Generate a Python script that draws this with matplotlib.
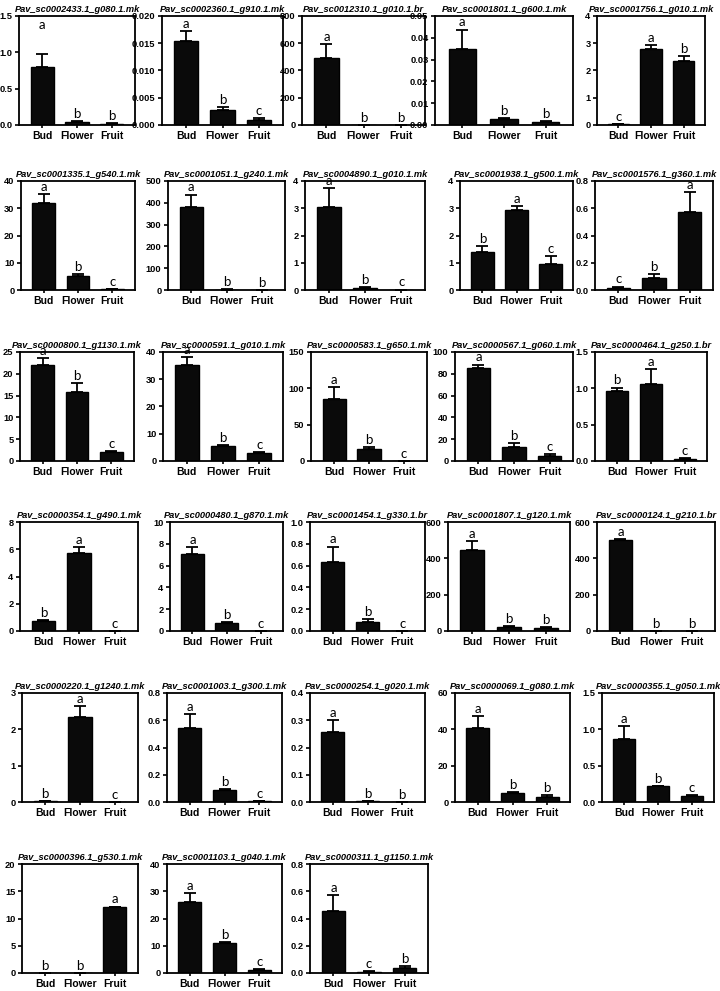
import matplotlib
matplotlib.use("Agg")
import matplotlib.pyplot as plt
import numpy as np

# ---------------- data ----------------
tissues = ["Bud", "Flower", "Fruit"]

genes = [
    "Pav_sc0002433.1_g080.1.mk", "Pav_sc0002360.1_g910.1.mk", "Pav_sc0012310.1_g010.1.br",
    "Pav_sc0001801.1_g600.1.mk", "Pav_sc0001756.1_g010.1.mk",
    "Pav_sc0001335.1_g540.1.mk", "Pav_sc0001051.1_g240.1.mk", "Pav_sc0004890.1_g010.1.mk",
    "Pav_sc0001938.1_g500.1.mk", "Pav_sc0001576.1_g360.1.mk",
    "Pav_sc0000800.1_g1130.1.mk", "Pav_sc0000591.1_g010.1.mk", "Pav_sc0000583.1_g650.1.mk",
    "Pav_sc0000567.1_g060.1.mk", "Pav_sc0000464.1_g250.1.br",
    "Pav_sc0000354.1_g490.1.mk", "Pav_sc0000480.1_g870.1.mk", "Pav_sc0001454.1_g330.1.br",
    "Pav_sc0001807.1_g120.1.mk", "Pav_sc0000124.1_g210.1.br",
    "Pav_sc0000220.1_g1240.1.mk", "Pav_sc0001003.1_g300.1.mk", "Pav_sc0000254.1_g020.1.mk",
    "Pav_sc0000069.1_g080.1.mk", "Pav_sc0000355.1_g050.1.mk",
    "Pav_sc0000396.1_g530.1.mk", "Pav_sc0001103.1_g040.1.mk", "Pav_sc0000311.1_g1150.1.mk",
]

bud = [0.80, 0.0154, 495, 0.035, 0.02,
       32.0, 383, 3.05, 1.40, 0.012,
       22.0, 35.3, 85, 85, 0.97,
       0.72, 7.05, 0.63, 445, 500,
       0.02, 0.545, 0.258, 40.5, 0.87,
       0.0, 26.0, 0.455]
flower = [0.04, 0.0028, 0.5, 0.0027, 2.78,
          5.0, 2.0, 0.08, 2.92, 0.087,
          15.8, 5.4, 17, 13, 1.06,
          5.72, 0.75, 0.085, 24, 0.5,
          2.35, 0.085, 0.002, 5.0, 0.215,
          0.0, 11.0, 0.01]
fruit = [0.02, 0.0009, 0.5, 0.0015, 2.36,
         0.3, 1.0, 0.01, 0.96, 0.575,
         2.0, 3.0, 0.3, 4.7, 0.025,
         0.01, 0.02, 0.002, 17, 0.5,
         0.002, 0.005, 0.001, 3.0, 0.08,
         12.2, 1.2, 0.04]
bud_err = [0.18, 0.0018, 100, 0.0088, 0.02,
           3.2, 55, 0.68, 0.22, 0.013,
           1.7, 2.8, 17, 3.5, 0.04,
           0.10, 0.65, 0.145, 48, 5,
           0.01, 0.10, 0.042, 7.0, 0.18,
           0.0, 3.4, 0.12]
flower_err = [0.015, 0.0005, 0.0, 0.0006, 0.15,
              0.8, 0.5, 0.03, 0.17, 0.03,
              2.0, 0.5, 2.0, 3.5, 0.21,
              0.42, 0.05, 0.025, 3.0, 0.0,
              0.28, 0.01, 0.0, 0.5, 0.01,
              0.0, 0.5, 0.003]
fruit_err = [0.01, 0.0003, 0.0, 0.0003, 0.18,
             0.1, 0.0, 0.005, 0.28, 0.145,
             0.2, 0.4, 0.0, 1.8, 0.01,
             0.0, 0.01, 0.0, 4.0, 0.0,
             0.0, 0.002, 0.0, 0.7, 0.01,
             0.0, 0.2, 0.008]
letters = ["abb", "abc", "abb", "abb", "cab",
           "abc", "abb", "abc", "bac", "cba",
           "abc", "abc", "abc", "abc", "bac",
           "bac", "abc", "abc", "abb", "abb",
           "bac", "abc", "abb", "abb", "abc",
           "bba", "abc", "acb"]
y_max = [1.5, 0.020, 800, 0.05, 4,
         40, 500, 4, 4, 0.8,
         25, 40, 150, 100, 1.5,
         8, 10, 1.0, 600, 600,
         3, 0.8, 0.4, 60, 1.5,
         20, 40, 0.8]
y_step = [0.5, 0.005, 200, 0.01, 1,
          10, 100, 1, 1, 0.2,
          5, 10, 50, 20, 0.5,
          2, 2, 0.2, 200, 200,
          1, 0.2, 0.1, 20, 0.5,
          5, 10, 0.2]
y_decimals = [1, 3, 0, 2, 0,
              0, 0, 0, 0, 1,
              0, 0, 0, 0, 1,
              0, 0, 1, 0, 0,
              0, 1, 1, 0, 1,
              0, 0, 1]
# hand-placed letter heights (panel -> {bar: y})
letter_y_override = {0: {0: 1.30}}

# ---------------- layout (pixels) ----------------
W, H = 720, 991
row_tops = [16, 181, 352, 522, 693, 864]
ax_h = 109
col_edges = [
    [(19, 135), (162, 283), (302, 425), (435, 573), (597, 705)],
    [(21, 135), (168, 285), (305, 425), (460, 573), (595, 713)],
    [(20, 134), (163, 283), (311, 427), (455, 573), (595, 707)],
    [(20, 138), (170, 283), (310, 425), (448, 570), (597, 715)],
    [(22, 138), (167, 282), (310, 425), (455, 570), (602, 714)],
    [(22, 138), (167, 282), (310, 428)],
]

fig = plt.figure(figsize=(W / 100, H / 100), dpi=100)
fig.patch.set_facecolor("white")

TICK_FONT = "Liberation Sans"
LETTER_FONT = ["Lato", "DejaVu Sans"]

for i, gene in enumerate(genes):
    r, c = divmod(i, 5)
    l, rr = col_edges[r][c]
    top = row_tops[r]
    ax = fig.add_axes([l / W, 1 - (top + ax_h) / H, (rr - l) / W, ax_h / H])
    x = np.arange(3)
    vals = np.array([bud[i], flower[i], fruit[i]])
    errs = np.array([bud_err[i], flower_err[i], fruit_err[i]])
    ax.bar(x, vals, width=0.66, color="#0a0a0a", edgecolor="black", linewidth=1.0, zorder=2)
    ax.errorbar(x, vals, yerr=[np.zeros(3), errs], fmt="none", ecolor="black",
                elinewidth=1.3, capsize=4.5, capthick=1.3, zorder=3)
    ax.set_xlim(-0.66, 2.66)
    ax.set_ylim(0, y_max[i])
    ticks = np.arange(0, y_max[i] + y_step[i] * 0.5, y_step[i])
    ax.set_yticks(ticks)
    ax.set_yticklabels([f"{t:.{y_decimals[i]}f}" for t in ticks],
                       fontfamily=TICK_FONT, fontweight="bold", fontsize=6.7)
    ax.set_xticks(x)
    ax.set_xticklabels(tissues, fontfamily=TICK_FONT, fontweight="bold", fontsize=7.5)
    ax.tick_params(axis="both", direction="out", length=3.2, width=1.2, pad=1.5)
    ax.tick_params(axis="x", length=2.5, pad=1.5)
    for s in ax.spines.values():
        s.set_linewidth(1.3)
    ax.set_title(gene, fontfamily=TICK_FONT, fontweight="bold", fontstyle="italic",
                 fontsize=6.7, pad=3)
    for j in range(3):
        ytop = vals[j] + errs[j]
        ov = letter_y_override.get(i, {})
        if j in ov:
            ax.text(x[j], ov[j], letters[i][j], ha="center", va="bottom",
                    fontsize=9.5, fontfamily=LETTER_FONT, clip_on=False, zorder=4)
        else:
            ax.annotate(letters[i][j], (x[j], ytop), xytext=(0, 0.8),
                        textcoords="offset points", ha="center", va="bottom",
                        fontsize=9.5, fontfamily=LETTER_FONT, annotation_clip=False, zorder=4)

fig.savefig("out.png", dpi=100, facecolor="white")
